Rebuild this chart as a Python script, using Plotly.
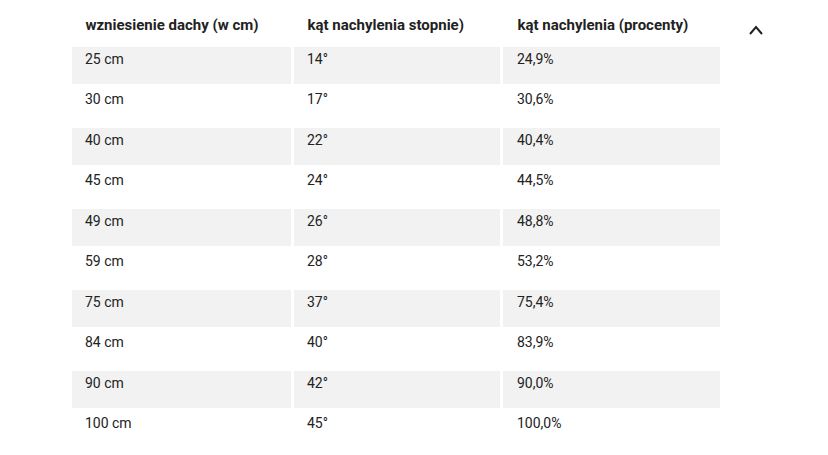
import plotly.graph_objects as go

headers = ["wzniesienie dachy (w cm)", "kąt nachylenia stopnie)", "kąt nachylenia (procenty)"]
rise = ["25 cm", "30 cm", "40 cm", "45 cm", "49 cm", "59 cm", "75 cm", "84 cm", "90 cm", "100 cm"]
angle_deg = ["14°", "17°", "22°", "24°", "26°", "28°", "37°", "40°", "42°", "45°"]
angle_pct = ["24,9%", "30,6%", "40,4%", "44,5%", "48,8%", "53,2%", "75,4%", "83,9%", "90,0%", "100,0%"]

pad = "\u00a0\u00a0"
fills = ["#f2f2f2" if i % 2 == 0 else "#ffffff" for i in range(len(rise))]

fig = go.Figure(go.Table(
    domain=dict(x=[62/828, 714/828], y=[0, 1]),
    columnwidth=[220, 208, 218],
    header=dict(values=["<b>" + pad + h + "</b>" for h in headers],
                fill_color="white", line=dict(color="white", width=3),
                align="left", height=37,
                font=dict(family="Roboto", size=15, color="#222222")),
    cells=dict(values=[[pad + v for v in c] for c in (rise, angle_deg, angle_pct)],
               fill_color=[fills] * 3, line=dict(color="white", width=3),
               align="left", height=40.5,
               font=dict(family="Roboto", size=14, color="#222222")),
))
fig.add_shape(type="path", xref="paper", yref="paper",
              path=f"M {742/828},{1-26/455} L {748/828},{1-19/455} L {754/828},{1-26/455}",
              line=dict(color="#222222", width=2))
fig.update_layout(width=828, height=455, margin=dict(l=0, r=0, t=0, b=0),
                  paper_bgcolor="white", plot_bgcolor="white")
fig.write_html("out.html")
